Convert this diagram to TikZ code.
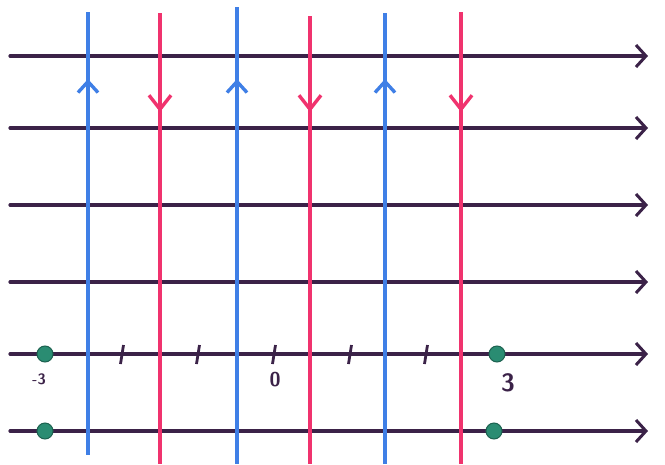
\documentclass[tikz,border=0pt]{standalone}
\usetikzlibrary{arrows.meta}
\definecolor{axispurple}{HTML}{3B2248}
\definecolor{fieldblue}{HTML}{3F7FE6}
\definecolor{fieldpink}{HTML}{F0336E}
\definecolor{dotgreen}{HTML}{2A8C72}
\tikzset{
  axisline/.style={draw=axispurple, line width=3.2pt, line cap=round, -{Straight Barb[length=10pt,width=22pt,line width=3pt]}},
  upline/.style={draw=fieldblue, line width=3.1pt},
  downline/.style={draw=fieldpink, line width=3.1pt},
  uptip/.style={draw=fieldblue, line width=3.1pt, -{Straight Barb[length=11pt,width=20pt,line width=3.4pt]}},
  downtip/.style={draw=fieldpink, line width=3.1pt, -{Straight Barb[length=14pt,width=22pt,line width=3.4pt]}},
  greendot/.style={circle, fill=dotgreen, draw=dotgreen!70!black, line width=1pt, minimum width=16pt, inner sep=0pt},
  tickmark/.style={draw=axispurple, line width=2.8pt},
  numlabel/.style={text=axispurple, font=\sffamily\bfseries\fontsize{20}{20}\selectfont, inner sep=0pt}
}
\begin{document}
\begin{tikzpicture}[x=1pt,y=-1pt]
\useasboundingbox (0,0) rectangle (665,464);
% horizontal axes
\foreach \i/\y in {1/56,2/128,3/205,4/282,5/354,6/431}{
  \coordinate (L\i) at (10,\y);
  \coordinate (R\i) at (648,\y);
}
% vertical lines
\foreach \n/\x/\ya/\yb in {b1/88/12/455,p1/160/13/464,b2/237/7/464,p2/310/16/464,b3/385/13/464,p3/461/12/464}{
  \coordinate (\n top) at (\x,\ya);
  \coordinate (\n bot) at (\x,\yb);
}
\foreach \i in {1,...,6}{ \draw[axisline] (L\i) -- (R\i); }
\foreach \n in {b1,b2,b3}{ \draw[upline] (\n top) -- (\n bot); }
\foreach \n in {p1,p2,p3}{ \draw[downline] (\n top) -- (\n bot); }
% direction arrows on vertical lines
\foreach \x in {88,237,385}{
  \coordinate (ua\x) at (\x,112); \coordinate (ub\x) at (\x,79);
  \draw[uptip] (ua\x) -- (ub\x);
}
\foreach \x in {160,310,461}{
  \coordinate (da\x) at (\x,80); \coordinate (db\x) at (\x,112);
  \draw[downtip] (da\x) -- (db\x);
}
% ticks on number line
\foreach \x in {122,198,274,350,426}{
  \coordinate (ta\x) at (\x+1.5,345); \coordinate (tb\x) at (\x-1.5,364);
  \draw[tickmark] (ta\x) -- (tb\x);
}
% green dots
\node[greendot] (d1) at (45,354) {};
\node[greendot] (d2) at (497,354) {};
\node[greendot] (d3) at (45,431) {};
\node[greendot] (d4) at (494,431) {};
% labels
\node[numlabel, font=\sffamily\bfseries\fontsize{15}{15}\selectfont] (lm3) at (39,379) {-3};
\node[numlabel] (l0) at (275,380) {0};
\node[numlabel, font=\sffamily\bfseries\fontsize{25}{25}\selectfont] (l3) at (508,383) {3};
\end{tikzpicture}
\end{document}
